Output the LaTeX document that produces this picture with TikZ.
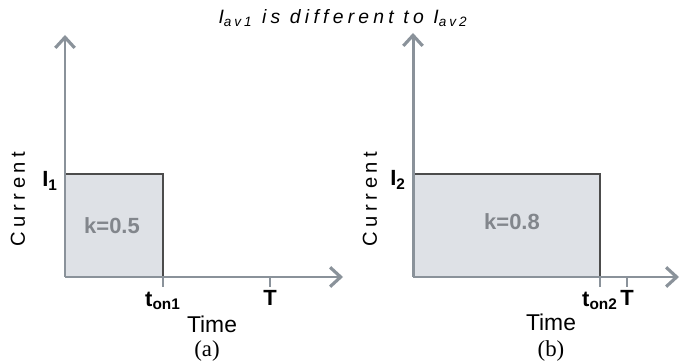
\documentclass[tikz,border=0pt]{standalone}
\usepackage{fontspec}
\setmainfont{Liberation Sans}
\newfontfamily\spacedfont[LetterSpace=22]{Liberation Sans}
\newfontfamily\capfont{Liberation Serif}
\usetikzlibrary{positioning, arrows.meta}
\definecolor{axisgrey}{RGB}{138,146,154}
\definecolor{pulsefill}{RGB}{222,225,230}
\definecolor{pulsegrey}{RGB}{130,134,140}
\tikzset{
    axis/.style={line width=1.7pt, color=axisgrey, -{Straight Barb[length=6pt, width=11pt, line width=1.8pt]}},
    tick/.style={line width=1.2pt, color=axisgrey},
    lvl/.style={font=\fontsize{12.5}{14}\selectfont\bfseries, inner sep=1pt},
    klabel/.style={font=\fontsize{12.5}{14}\selectfont\bfseries, text=pulsegrey},
    axlabel/.style={font=\fontsize{13}{15}\selectfont},
    ylabel/.style={font=\spacedfont\fontsize{11.5}{13}\selectfont, rotate=90},
    caption/.style={font=\capfont\fontsize{13}{15}\selectfont}
}
\begin{document}
\begin{tikzpicture}
    \useasboundingbox (0,0) rectangle (13.6,7.28);

    % Title
    \node[font=\spacedfont\itshape\fontsize{11}{13}\selectfont] (title) at (6.86,6.92)
        {I\textsubscript{av1} is different to I\textsubscript{av2}};

    % Panel (a)
    \coordinate (oa) at (1.3,1.74);
    \coordinate (ya) at (1.3,6.58);
    \coordinate (xa) at (6.86,1.74);
    \coordinate (ona) at (3.26,1.74);
    \coordinate (ta) at (5.4,1.74);
    \fill[pulsefill] (oa) rectangle (3.26,3.8);
    \draw[black!70, line width=0.6pt] (1.3,3.8) -- (3.26,3.8) -- (ona);
    \draw[tick] (ona) -- ++(0,-0.2) coordinate (ona_b);
    \draw[tick] (ta) -- ++(0,-0.2) coordinate (ta_b);
    \draw[axis] (oa) -- (ya);
    \draw[axis] (oa) -- (xa);
    \node[lvl, anchor=east] (ia) at (1.2,3.66) {I\textsubscript{1}};
    \node[klabel] (ka) at (2.24,2.76) {k=0.5};
    \node[lvl, anchor=north] (tona) at ([yshift=-0.06cm]ona_b) {t\textsubscript{on1}};
    \node[lvl, anchor=north] (tpa) at ([yshift=-0.02cm]ta_b) {T};
    \node[axlabel] (timea) at (4.24,0.8) {Time};
    \node[caption] (capa) at (4.14,0.26) {(a)};
    \node[ylabel] (cura) at (0.36,3.3) {Current};

    % Panel (b)
    \coordinate (ob) at (8.26,1.74);
    \coordinate (yb) at (8.26,6.62);
    \coordinate (xb) at (13.58,1.74);
    \coordinate (onb) at (12.0,1.74);
    \coordinate (tb) at (12.54,1.74);
    \fill[pulsefill] (ob) rectangle (12.0,3.8);
    \draw[black!70, line width=0.6pt] (8.26,3.8) -- (12.0,3.8) -- (onb);
    \draw[tick] (onb) -- ++(0,-0.2) coordinate (onb_b);
    \draw[tick] (tb) -- ++(0,-0.2) coordinate (tb_b);
    \draw[axis] (ob) -- (yb);
    \draw[axis] (ob) -- (xb);
    \node[lvl, anchor=east] (ib) at (8.16,3.68) {I\textsubscript{2}};
    \node[klabel] (kb) at (10.24,2.84) {k=0.8};
    \node[lvl, anchor=north] (tonb) at ([yshift=-0.06cm]onb_b) {t\textsubscript{on2}};
    \node[lvl, anchor=north] (tpb) at ([yshift=-0.02cm]tb_b) {T};
    \node[axlabel] (timeb) at (11.02,0.84) {Time};
    \node[caption] (capb) at (11.02,0.26) {(b)};
    \node[ylabel] (curb) at (7.4,3.3) {Current};
\end{tikzpicture}
\end{document}
